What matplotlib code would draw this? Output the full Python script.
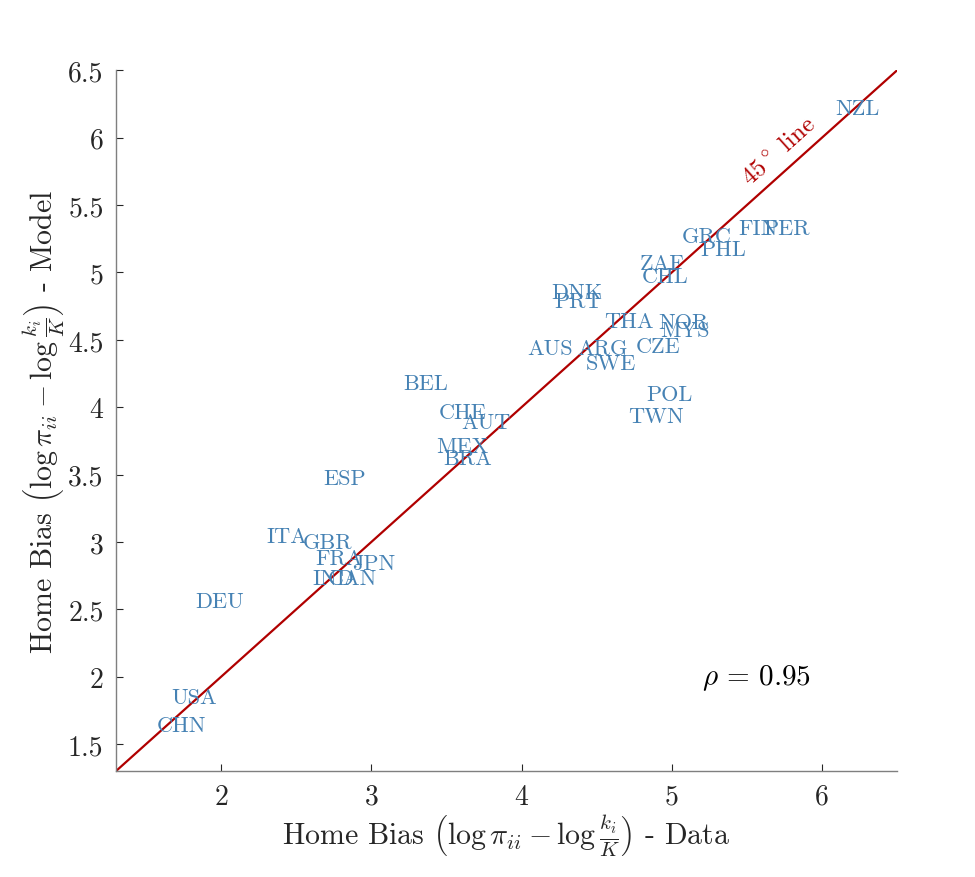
import matplotlib
matplotlib.use('Agg')
import matplotlib.pyplot as plt

plt.rcParams['font.family'] = 'serif'
plt.rcParams['font.serif'] = ['cmr10', 'DejaVu Serif']
plt.rcParams['mathtext.fontset'] = 'cm'
plt.rcParams['axes.formatter.use_mathtext'] = True

# country labels, placed at (data home bias, model home bias)
countries = ['NZL', 'PER', 'FIN', 'GRC', 'PHL', 'ZAF', 'CHL', 'DNK', 'PRT', 'THA',
             'NOR', 'MYS', 'AUS', 'ARG', 'CZE', 'SWE', 'POL', 'TWN', 'BEL', 'CHE',
             'AUT', 'MEX', 'BRA', 'ESP', 'ITA', 'GBR', 'FRA', 'JPN', 'IND', 'CAN',
             'DEU', 'USA', 'CHN']
data_bias = [6.09, 5.61, 5.44, 5.07, 5.19, 4.79, 4.80, 4.20, 4.22, 4.55,
             4.91, 4.92, 4.04, 4.37, 4.76, 4.43, 4.83, 4.71, 3.21, 3.45,
             3.60, 3.43, 3.48, 2.68, 2.30, 2.54, 2.63, 2.87, 2.61, 2.71,
             1.83, 1.67, 1.57]
model_bias = [6.22, 5.33, 5.33, 5.27, 5.17, 5.07, 4.97, 4.85, 4.79, 4.64,
              4.63, 4.57, 4.44, 4.44, 4.45, 4.33, 4.10, 3.93, 4.18, 3.96,
              3.89, 3.71, 3.62, 3.47, 3.04, 3.00, 2.88, 2.84, 2.73, 2.73,
              2.56, 1.85, 1.64]
rho = 0.95

xticks = [2, 3, 4, 5, 6]
yticks = [1.5, 2, 2.5, 3, 3.5, 4, 4.5, 5, 5.5, 6, 6.5]
lims = [1.3, 6.5]

blue = '#4682B4'
red = '#B00000'
axcol = '#262626'

fig = plt.figure(figsize=(9.75, 8.78), dpi=100)
ax = fig.add_axes([0.119, 0.1207, 0.801, 0.798])

ax.plot(lims, lims, color=red, lw=1.6)
for c, x, y in zip(countries, data_bias, model_bias):
    ax.text(x, y, c, color=blue, fontsize=16, ha='left', va='center')

ax.text(5.715, 5.91, r'$45^\circ$ line', color=red, fontsize=18, rotation=42,
        ha='center', va='center', rotation_mode='anchor')
ax.text(5.2, 2.0, r'$\rho\,=\,%.2f$' % rho, fontsize=21, ha='left', va='center')

ax.set_xlim(lims)
ax.set_ylim(lims)
ax.set_xticks(xticks)
ax.set_yticks(yticks)
ax.set_xticklabels([str(t) for t in xticks])
ax.set_yticklabels(['%g' % t for t in yticks])
ax.tick_params(direction='in', length=5, width=0.8, colors=axcol, labelsize=20, pad=9)
for s in ['top', 'right']:
    ax.spines[s].set_visible(False)
for s in ['left', 'bottom']:
    ax.spines[s].set_color('#7f7f7f')
    ax.spines[s].set_linewidth(1.0)

ax.set_xlabel(r'Home Bias $\left(\log\pi_{ii} - \log\frac{k_i}{K}\right)$ - Data',
              fontsize=21.5, color=axcol, labelpad=2)
ax.set_ylabel(r'Home Bias $\left(\log\pi_{ii} - \log\frac{k_i}{K}\right)$ - Model',
              fontsize=21.5, color=axcol, labelpad=1)

fig.savefig('out.png', dpi=100)
